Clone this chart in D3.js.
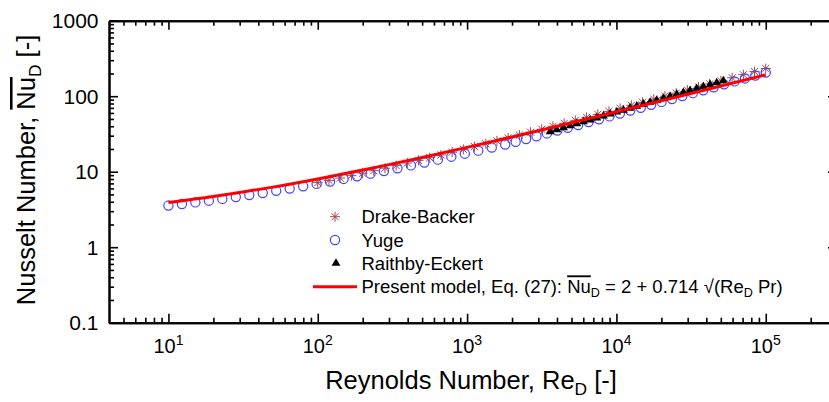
<!DOCTYPE html>
<html><head><meta charset="utf-8">
<script src="https://cdn.jsdelivr.net/npm/d3@7"></script>
<style>
body{margin:0;background:#fff}
svg{display:block}
text{font-family:"Liberation Sans",Arial,sans-serif;fill:#000}
</style>
</head><body>
<svg id="chart" width="829" height="402"></svg>
<script>
// ---------------- data ----------------
const drakeRe=[100,118.9,141.3,168.0,199.5,237.1,281.8,335.0,398.1,473.2,562.3,668.3,794.3,944.1,1122,1334,1585,1884,2239,2661,3162,3758,4467,5309,6310,7499,8913,10593,12589,14962,17783,21135,25119,29854,35481,42170,50119,59566,70795,84140,100000];
const drakeNu=[7.16,7.68,8.24,8.86,9.55,10.30,11.13,12.04,13.04,14.14,15.35,16.68,18.14,19.75,21.51,23.46,25.60,27.95,30.53,33.37,36.50,39.94,43.72,47.87,52.44,57.47,63.00,69.08,75.76,83.11,91.19,100.1,109.8,120.6,132.4,145.4,159.7,175.4,192.7,211.7,232.6];

const yugeRe=[10,12.31,15.15,18.65,22.96,28.26,34.78,42.81,52.70,64.86,79.84,98.24,120.9,148.9,183.2,225.5,277.5,341.6,420.5,517.6,637.1,784.4,965.4,1188,1463,1800,2114,2483,2915,3424,4021,4721,5545,6510,7645,8978,10544,12382,14540,17076,20052,23546,27653,32474,38134,44782,52590,61757,72526,85166,100000];
const yugeNu=[3.56,3.73,3.92,4.13,4.36,4.62,4.91,5.23,5.58,5.97,6.41,6.89,7.42,8.02,8.68,9.41,10.21,11.12,12.11,13.22,14.44,15.81,17.32,18.99,20.85,22.92,24.93,27.12,29.51,32.13,35.00,38.15,41.59,45.36,49.50,54.03,58.98,64.42,70.37,76.88,84.03,91.84,100.4,109.8,120.0,131.3,143.6,157.1,171.9,188.1,205.8];

const raithbyRe=[3600,3990,4422,4900,5430,6017,6668,7389,8188,9074,10054,11141,12346,13682,15162,16801,18620,20630,22860,25330,28070,31110,34470,38200,42330,46910,52000];
const raithbyNu=[34.0,36.1,38.3,40.6,43.2,45.8,48.6,51.6,54.8,58.1,61.7,65.5,69.5,73.8,78.3,83.1,88.2,93.6,99.4,105.4,111.9,118.8,126.1,133.8,142.0,150.7,160.0];

const modelRe=[10,20,30,50,100,200,300,500,1000,2000,3000,5000,10000,20000,30000,50000,100000];
const modelNu=[3.90,4.69,5.30,6.25,8.02,10.51,12.42,15.45,21.02,28.90,34.95,44.54,62.16,87.08,106.2,136.5,192.2];

const xTickExps=[1,2,3,4,5];
const yTickLabels=["0.1","1","10","100","1000"];
const legendNames=["Drake-Backer","Yuge","Raithby-Eckert"];

// ---------------- chart ----------------
const svg=d3.select("#chart");
const X0=109,X1=837,Y0=322.7,Y1=20.7;
const x=d3.scaleLog().domain([4,3e5]).range([X0,X1]);
const y=d3.scaleLog().domain([0.1,1000]).range([Y0,Y1]);

function minors(lo,hi){const out=[];for(let e=Math.floor(Math.log10(lo));e<=Math.ceil(Math.log10(hi));e++){for(let m=2;m<=9;m++){const v=m*Math.pow(10,e);if(v>lo&&v<hi)out.push(v);}}return out;}
const xMajor=xTickExps.map(e=>Math.pow(10,e));
const yMajor=yTickLabels.map(Number);
const xMinor=minors(4,3e5), yMinor=minors(0.1,1000);

function styleAxis(g){g.selectAll("path.domain").attr("stroke","#000").attr("stroke-width",2);g.selectAll(".tick line").attr("stroke","#000").attr("stroke-width",1.6);g.selectAll("text").remove();}

// bottom
svg.append("g").attr("transform",`translate(0,${Y0})`).call(d3.axisBottom(x).tickValues(xMinor).tickSizeInner(-5).tickSizeOuter(0)).call(styleAxis);
svg.append("g").attr("transform",`translate(0,${Y0})`).call(d3.axisBottom(x).tickValues(xMajor).tickSizeInner(-9).tickSizeOuter(0)).call(styleAxis);
// top
svg.append("g").attr("transform",`translate(0,${Y1})`).call(d3.axisTop(x).tickValues(xMinor).tickSizeInner(-5).tickSizeOuter(0)).call(styleAxis);
svg.append("g").attr("transform",`translate(0,${Y1})`).call(d3.axisTop(x).tickValues(xMajor).tickSizeInner(-9).tickSizeOuter(0)).call(styleAxis);
// left
svg.append("g").attr("transform",`translate(${X0},0)`).call(d3.axisLeft(y).tickValues(yMinor).tickSizeInner(-5).tickSizeOuter(0)).call(styleAxis);
svg.append("g").attr("transform",`translate(${X0},0)`).call(d3.axisLeft(y).tickValues(yMajor).tickSizeInner(-9).tickSizeOuter(0)).call(styleAxis);
// right
svg.append("g").attr("transform",`translate(${X1},0)`).call(d3.axisRight(y).tickValues(yMinor).tickSizeInner(-5).tickSizeOuter(0)).call(styleAxis);
svg.append("g").attr("transform",`translate(${X1},0)`).call(d3.axisRight(y).tickValues(yMajor).tickSizeInner(-9).tickSizeOuter(0)).call(styleAxis);

// tick labels
const xl=svg.append("g").selectAll("text").data(xTickExps).join("text")
  .attr("x",d=>x(Math.pow(10,d))).attr("y",353).attr("text-anchor","middle").attr("font-size",20);
xl.append("tspan").text("10");
xl.append("tspan").attr("font-size",14).attr("dy",-8).text(d=>d);

svg.append("g").selectAll("text").data(yTickLabels).join("text")
  .attr("x",98.5).attr("y",d=>y(+d)).attr("dy","0.36em").attr("text-anchor","end").attr("font-size",21).text(d=>d);

// rich text helper
function rich(sel,segs,fs){
  let shift=0;
  segs.forEach(s=>{
    const t=sel.append("tspan").text(s.t);
    if(s.sub){t.attr("font-size",fs*0.68).attr("dy",fs*0.22-shift);shift=fs*0.22;}
    else{ if(shift){t.attr("dy",-shift);shift=0;} }
    if(s.over) t.style("text-decoration","overline");
  });
}

// axis titles
const yt=svg.append("text").attr("transform","translate(35,170) rotate(-90)").attr("text-anchor","middle").attr("font-size",25.5);
rich(yt,[{t:"Nusselt Number, "},{t:"Nu",over:true},{t:"D",sub:true},{t:" [-]"}],25.5);
const xt=svg.append("text").attr("x",471).attr("y",389).attr("text-anchor","middle").attr("font-size",25.5);
rich(xt,[{t:"Reynolds Number, Re"},{t:"D",sub:true},{t:" [-]"}],25.5);

// symbols
const starR=5, sa=starR*0.707;
const starPath=`M${-starR},0L${starR},0M0,${-starR}L0,${starR}M${-sa},${-sa}L${sa},${sa}M${-sa},${sa}L${sa},${-sa}`;
const starColor="#a04a4a", circColor="#4545ff";
const tri=d3.symbol(d3.symbolTriangle).size(34)();

const plot=svg.append("g");
plot.selectAll("path.drake").data(drakeRe).join("path").attr("class","drake")
  .attr("transform",(d,i)=>`translate(${x(d)},${y(drakeNu[i])})`).attr("d",starPath)
  .attr("stroke",starColor).attr("stroke-width",1).attr("fill","none");
plot.selectAll("circle.yuge").data(yugeRe).join("circle").attr("class","yuge")
  .attr("cx",d=>x(d)).attr("cy",(d,i)=>y(yugeNu[i])).attr("r",4.6)
  .attr("fill","none").attr("stroke",circColor).attr("stroke-width",1.2);
plot.selectAll("path.rai").data(raithbyRe).join("path").attr("class","rai")
  .attr("transform",(d,i)=>`translate(${x(d)},${y(raithbyNu[i])})`).attr("d",tri).attr("fill","#000");
const line=d3.line().x(d=>x(d[0])).y(d=>y(d[1])).curve(d3.curveMonotoneX);
plot.append("path").datum(modelRe.map((r,i)=>[r,modelNu[i]])).attr("d",line)
  .attr("fill","none").attr("stroke","#ff0000").attr("stroke-width",3);

// legend
const lg=svg.append("g");
const rowY=[216.7,240,263.3,286.7];
const lx=335, tx=361.5, lfs=18.5;
lg.append("path").attr("transform",`translate(${lx},${rowY[0]})`).attr("d",starPath).attr("stroke",starColor).attr("fill","none");
lg.append("circle").attr("cx",lx).attr("cy",rowY[1]).attr("r",4.6).attr("fill","none").attr("stroke",circColor).attr("stroke-width",1.2);
lg.append("path").attr("transform",`translate(${lx+1},${rowY[2]})`).attr("d",tri).attr("fill","#000");
lg.append("line").attr("x1",313).attr("x2",357).attr("y1",rowY[3]).attr("y2",rowY[3]).attr("stroke","#ff0000").attr("stroke-width",3);
legendNames.forEach((n,i)=>{
  lg.append("text").attr("x",tx).attr("y",rowY[i]).attr("dy","0.36em").attr("font-size",lfs).text(n);
});
const pm=lg.append("text").attr("x",tx).attr("y",rowY[3]).attr("dy","0.36em").attr("font-size",lfs);
rich(pm,[{t:"Present model, Eq. (27): "},{t:"Nu",over:true},{t:"D",sub:true},{t:" = 2 + 0.714 \u221A(Re"},{t:"D",sub:true},{t:" Pr)"}],lfs);
</script>
</body></html>
